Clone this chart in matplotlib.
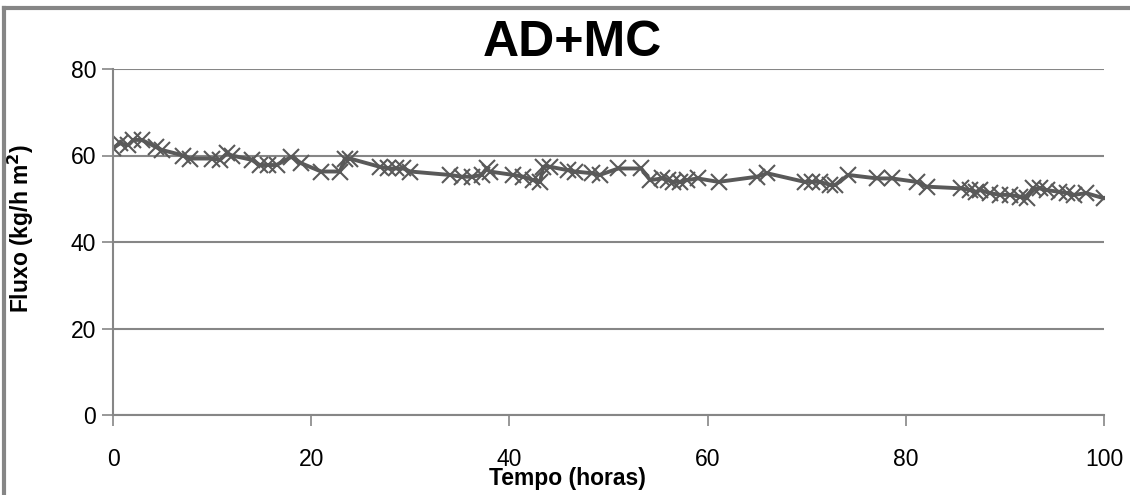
import matplotlib.pyplot as plt
from matplotlib.lines import Line2D

plt.rcParams['font.family'] = ['Liberation Sans', 'DejaVu Sans']

# tempo (horas) e fluxo (kg/h m2)
tempo = [0, 0.7, 1.55, 2.05, 2.9, 4.3, 4.9, 7.1, 7.8, 10, 10.8, 11.5, 12,
         14, 14.8, 15.6, 16.5, 18, 19, 21, 22.9, 23.4, 23.9, 26.9, 27.8,
         28.6, 29.3, 30, 34, 35.2, 36.2, 37.2, 37.7, 38, 40.4, 41.4, 42.4,
         43.1, 43.4, 44.1, 45.9, 46.6, 48.3, 49.1, 51, 53.3, 54.2, 55.4,
         56, 56.5, 57.2, 57.9, 59, 61.1, 65, 66, 69.8, 70.5, 71.3, 72.4,
         72.9, 74.2, 77.1, 78.6, 81.1, 82.1, 85.6, 86.5, 87.1, 87.5, 88.5,
         89.5, 90.5, 91.5, 92.2, 92.8, 93.5, 94.2, 95.5, 96.3, 97, 98.2, 100]
fluxo = [61.7, 62.8, 62.4, 63.6, 63.6, 62.0, 61.3, 60.0, 59.3, 59.3, 59.0,
         60.5, 60.0, 59.0, 57.8, 57.8, 57.8, 59.7, 58.2, 56.3, 56.3, 59.3,
         59.3, 57.4, 57.0, 57.0, 57.0, 56.3, 55.5, 55.1, 55.1, 55.5, 57.0,
         56.3, 55.5, 55.1, 54.3, 53.9, 57.4, 57.4, 56.6, 56.3, 55.9, 55.5,
         57.0, 57.0, 54.3, 54.7, 54.3, 53.9, 53.9, 54.3, 54.7, 53.9, 55.1,
         55.9, 53.9, 53.9, 53.9, 53.2, 53.2, 55.5, 54.7, 54.7, 53.9, 52.8,
         52.4, 52.0, 51.6, 52.0, 51.3, 50.9, 50.9, 50.5, 50.1, 52.4, 52.4,
         52.0, 51.6, 51.3, 50.9, 51.3, 50.1]

cor = '#595959'
cinza = '#868686'

fig = plt.figure(figsize=(11.3, 4.95), dpi=100)
ax = fig.add_axes([113 / 1130, 1 - 415 / 495, (1104 - 113) / 1130, (415 - 69) / 495])

ax.plot(tempo, fluxo, color=cor, lw=2.8, marker='x', markersize=12,
        markeredgewidth=1.5, markeredgecolor=cor)

ax.set_xlim(0, 100)
ax.set_ylim(0, 80)
ax.set_xticks([0, 20, 40, 60, 80, 100])
ax.set_yticks([0, 20, 40, 60, 80])
ax.yaxis.grid(True, color=cinza, lw=1.5)
ax.set_axisbelow(True)

for s in ['top', 'right']:
    ax.spines[s].set_visible(False)
for s in ['left', 'bottom']:
    ax.spines[s].set_color(cinza)
    ax.spines[s].set_linewidth(1.5)
ax.tick_params(axis='both', colors=cinza, width=1.2, length=8, labelsize=16.5,
               labelcolor='black')
ax.tick_params(axis='x', pad=16)
ax.tick_params(axis='y', pad=4)

fig.text(572 / 1130, 1 - 43 / 495, 'AD+MC', fontsize=36, fontweight='bold',
         ha='center', va='center')
ax.set_xlabel('Tempo (horas)', fontsize=16.5, fontweight='bold')
ax.xaxis.set_label_coords((567 - 113) / 991, (415 - 478) / 346)
ax.set_ylabel('Fluxo (kg/h m$^\\mathbf{2}$)', fontsize=16.5, fontweight='bold')
ax.yaxis.set_label_coords((21 - 113) / 991, (415 - 228) / 346)
ax.xaxis.label.set_va('center')
ax.yaxis.label.set_va('center')

# moldura externa
fig.add_artist(Line2D([4 / 1130, 4 / 1130], [0, 1 - 8 / 495], color=cinza, lw=3))
fig.add_artist(Line2D([4 / 1130, 1], [1 - 8 / 495, 1 - 8 / 495], color=cinza, lw=3))

fig.savefig('out.png', dpi=100)
